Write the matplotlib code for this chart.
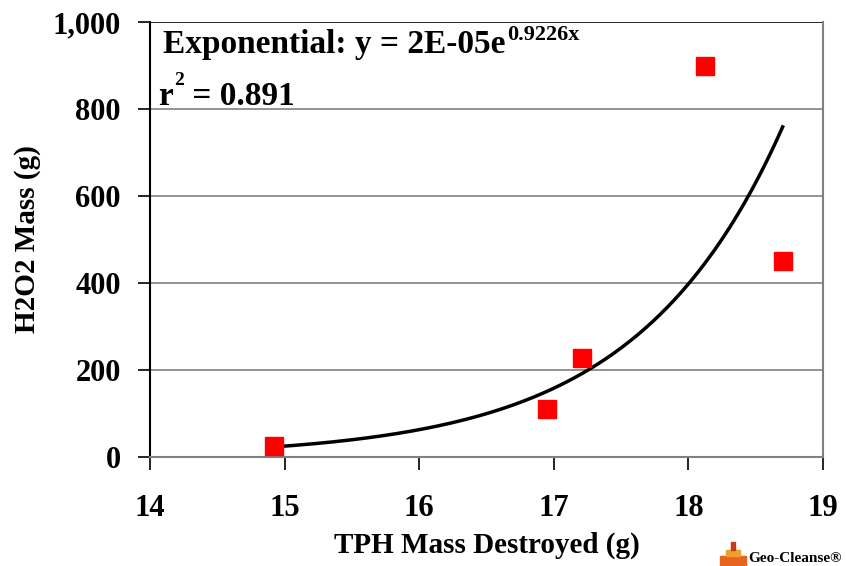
import numpy as np
import matplotlib
matplotlib.use("Agg")
import matplotlib.pyplot as plt
from matplotlib.patches import Rectangle

tph = [14.92, 16.95, 17.21, 18.12, 18.70]
h2o2 = [25, 110, 228, 899, 450]
trend_a = 2.44e-5
trend_b = 0.9226
x_ticks = [14, 15, 16, 17, 18, 19]
y_ticks = [0, 200, 400, 600, 800, 1000]
y_tick_labels = ["0", "200", "400", "600", "800", "1,000"]

plt.rcParams['font.family'] = ['Liberation Serif', 'DejaVu Serif']
plt.rcParams['font.weight'] = 'bold'

fig = plt.figure(figsize=(8.46, 5.66), dpi=100)
ax = fig.add_axes([150/846, 1-457/566, (823-150)/846, (457-22)/566])

for yv in y_ticks[1:]:
    ax.axhline(yv, color='black' if yv == 1000 else '#808080', lw=1.2, zorder=1)

xs = np.linspace(min(tph), max(tph), 200)
ax.plot(xs, trend_a*np.exp(trend_b*xs), color='black', lw=2.5, zorder=3)
ax.plot(tph, h2o2, 's', color='#ff0000', ms=13, mec='#ff0000', zorder=4, clip_on=False)

ax.set_xlim(14, 19)
ax.set_ylim(0, 1000)
ax.set_xticks(x_ticks)
ax.set_yticks(y_ticks)
ax.set_yticklabels(y_tick_labels)
ax.tick_params(axis='both', labelsize=22, direction='out', length=9, width=1.2, pad=12)
ax.tick_params(axis='x', pad=18)
for lab in ax.get_xticklabels() + ax.get_yticklabels():
    lab.set_fontweight('bold')
ax.spines['left'].set_color('black')
ax.spines['left'].set_linewidth(1.5)
ax.spines['bottom'].set_color('#808080')
ax.spines['bottom'].set_linewidth(1.5)
ax.spines['right'].set_color('#808080')
ax.spines['right'].set_linewidth(1.5)
ax.spines['top'].set_visible(False)
ax.tick_params(axis='x', color='black')

ax.set_xlabel("TPH Mass Destroyed (g)", fontsize=21, fontweight='bold', labelpad=6)
ax.set_ylabel("H2O2 Mass (g)", fontsize=21, fontweight='bold', labelpad=8)

# equation (line 1)
t1 = ax.text((163-150)/673, (457-53)/435, "Exponential: y = 2E-05e", transform=ax.transAxes,
             fontsize=24, fontweight='bold', va='baseline', ha='left')
ax.annotate("0.9226x", xy=(1, (457-40)/435), xycoords=(t1, ax.transAxes),
            xytext=(1, 0), textcoords='offset points',
            fontsize=16, fontweight='bold', va='baseline', ha='left')
# r^2 (line 2)
t2 = ax.text((158-150)/673, (457-105)/435, "r", transform=ax.transAxes,
             fontsize=24, fontweight='bold', va='baseline', ha='left')
s2 = ax.annotate("2", xy=(1, (457-85)/435), xycoords=(t2, ax.transAxes),
                 xytext=(1, 0), textcoords='offset points',
                 fontsize=14, fontweight='bold', va='baseline', ha='left')
ax.annotate(" = 0.891", xy=(1, (457-105)/435), xycoords=(s2, ax.transAxes),
            xytext=(0, 0), textcoords='offset points',
            fontsize=24, fontweight='bold', va='baseline', ha='left')

# logo
fig.patches.append(Rectangle((720/846, 1-566/566), 26/846, 10/566, transform=fig.transFigure,
                             color='#e8641e', zorder=5))
fig.patches.append(Rectangle((726/846, 1-556/566), 14/846, 6/566, transform=fig.transFigure,
                             color='#f0a030', zorder=5))
fig.patches.append(Rectangle((731/846, 1-550/566), 4/846, 8/566, transform=fig.transFigure,
                             color='#c83c14', zorder=5))
fig.text(748/846, 1-558/566, "Geo-Cleanse®", fontsize=11, fontweight='bold', va='center', ha='left')

fig.savefig("out.png", dpi=100)
